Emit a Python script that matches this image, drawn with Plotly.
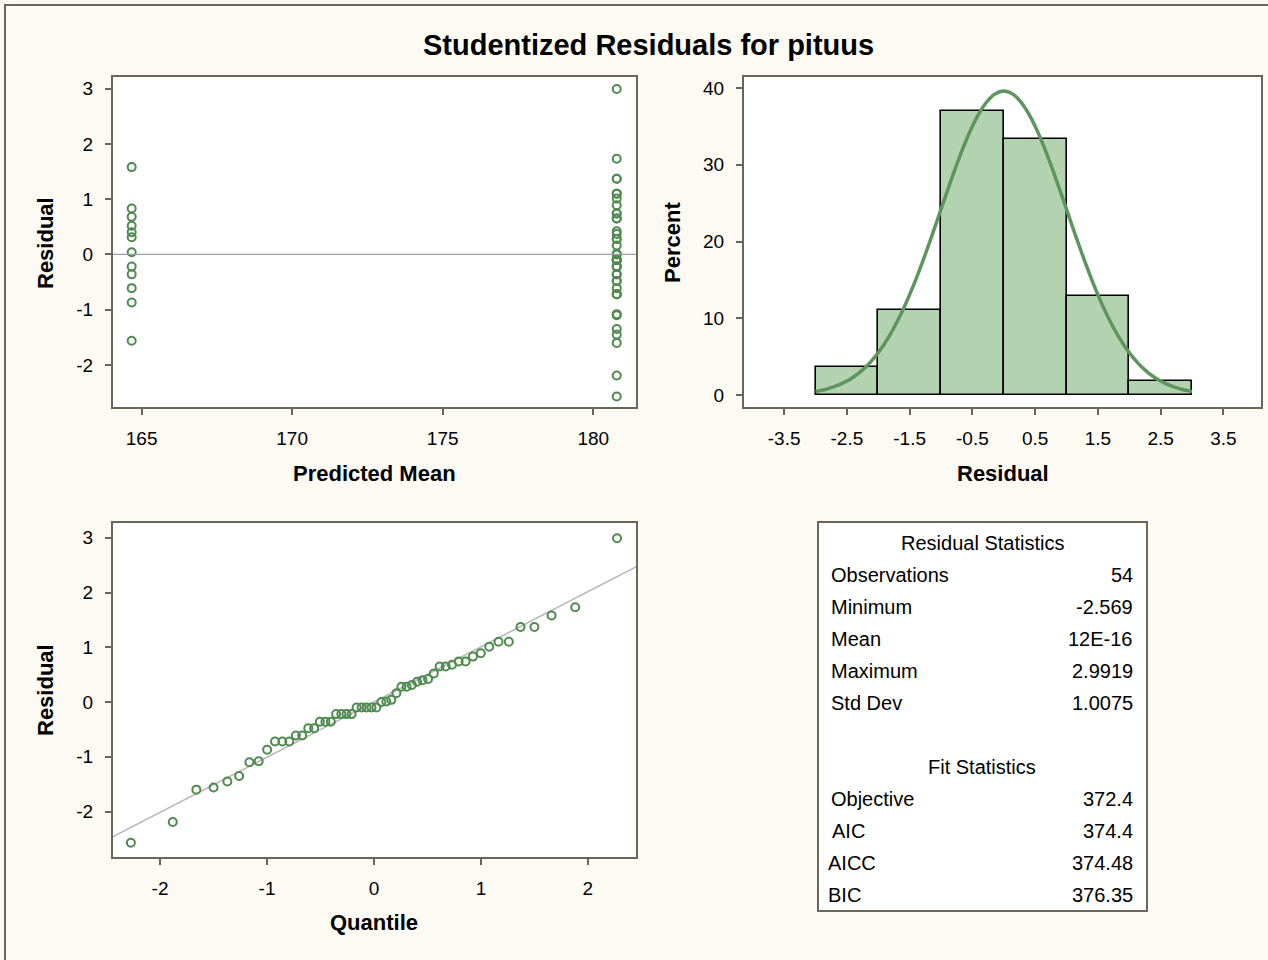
import plotly.graph_objects as go
from statistics import NormalDist

W, H = 1268, 960

# ---------------- data ----------------
title_text = "Studentized Residuals for pituus"

pred_low = 164.67
pred_high = 180.78
resid_low = [1.58, 0.83, 0.68, 0.52, 0.40, 0.31, 0.04, -0.22, -0.36, -0.61, -0.87, -1.56]
resid_high = [-2.569, -2.19, -1.60, -1.45, -1.35, -1.10, -1.08, -0.72, -0.72, -0.72,
              -0.61, -0.48, -0.48, -0.36, -0.36, -0.22, -0.22, -0.22, -0.10, -0.10,
              -0.10, -0.10, -0.10, 0.00, 0.01, 0.16, 0.28, 0.28, 0.37, 0.42,
              0.65, 0.65, 0.74, 0.74, 0.89, 1.01, 1.10, 1.10, 1.37, 1.37,
              1.73, 2.9919]

scatter_xticks = [165, 170, 175, 180]
resid_yticks = [-2, -1, 0, 1, 2, 3]
resid_yticktext = ["-2", "-1", "0", "1", "2", "3"]
hist_xticks = [-3.5, -2.5, -1.5, -0.5, 0.5, 1.5, 2.5, 3.5]
hist_xticktext = ["-3.5", "-2.5", "-1.5", "-0.5", "0.5", "1.5", "2.5", "3.5"]
hist_yticks = [0, 10, 20, 30, 40]
qq_xticks = [-2, -1, 0, 1, 2]
qq_xticktext = ["-2", "-1", "0", "1", "2"]

stat_labels = ["Observations", "Minimum", "Mean", "Maximum", "Std Dev"]
stat_values = ["54", "-2.569", "12E-16", "2.9919", "1.0075"]
fit_labels = ["Objective", "AIC", "AICC", "BIC"]
fit_values = ["372.4", "374.4", "374.48", "376.35"]

resid_mean = 0.0      # 12E-16
resid_sd = 1.0075

# ---------------- styles ----------------
BG = "#FDFAF3"
FRAME = "#6B665A"
GREEN = "#4F8A4F"
HIST_FILL = "#B3D3B0"
CURVE = "#5E955E"
FONT = "Liberation Sans, Arial, sans-serif"


def fx(px):
    return px / W


def fy(py):
    return 1 - py / H


all_resid = resid_low + resid_high
n = len(all_resid)
sorted_resid = sorted(all_resid)
nd = NormalDist()
qq_x = [nd.inv_cdf((i + 1 - 0.375) / (n + 0.25)) for i in range(n)]

curve_x = [-3 + i * 0.05 for i in range(121)]
fit_nd = NormalDist(resid_mean, resid_sd)
curve_y = [100 * 1.0 * fit_nd.pdf(v) for v in curve_x]

fig = go.Figure()

marker = dict(symbol="circle-open", size=8, color=GREEN, line=dict(color=GREEN, width=2))

# Panel 1: residual vs predicted mean
fig.add_trace(go.Scatter(x=[pred_low] * len(resid_low) + [pred_high] * len(resid_high),
                         y=resid_low + resid_high, mode="markers", marker=marker,
                         xaxis="x", yaxis="y", showlegend=False))

# Panel 2: histogram + normal curve
fig.add_trace(go.Histogram(x=all_resid, histnorm="percent",
                           xbins=dict(start=-3, end=3, size=1),
                           marker=dict(color=HIST_FILL, line=dict(color="black", width=1.6)),
                           xaxis="x2", yaxis="y2", showlegend=False))
fig.add_trace(go.Scatter(x=curve_x, y=curve_y, mode="lines",
                         line=dict(color=CURVE, width=3.5, shape="spline"),
                         xaxis="x2", yaxis="y2", showlegend=False))

# Panel 3: QQ plot
fig.add_trace(go.Scatter(x=[-3, 3], y=[resid_mean - 3 * resid_sd, resid_mean + 3 * resid_sd],
                         mode="lines", line=dict(color="#B8B8B8", width=1.5),
                         xaxis="x3", yaxis="y3", showlegend=False))
fig.add_trace(go.Scatter(x=qq_x, y=sorted_resid, mode="markers", marker=marker,
                         xaxis="x3", yaxis="y3", showlegend=False))

axis_common = dict(showline=True, mirror=True, linecolor=FRAME, linewidth=2,
                   ticks="outside", ticklen=6, tickwidth=1.5, tickcolor=FRAME,
                   showgrid=False, zeroline=False, automargin=False,
                   tickfont=dict(family=FONT, size=19, color="black"))

fig.update_layout(
    width=W, height=H,
    margin=dict(l=0, r=0, t=0, b=0),
    paper_bgcolor=BG, plot_bgcolor="white",
    bargap=0,
    xaxis=dict(domain=[fx(113), fx(636)], range=[164.05, 181.42], tickvals=scatter_xticks,
               anchor="y", ticklabelstandoff=7, **axis_common),
    yaxis=dict(domain=[fy(407), fy(77)], range=[-2.76, 3.21], tickvals=resid_yticks,
               ticktext=resid_yticktext, anchor="x", ticklabelstandoff=8, **axis_common),
    xaxis2=dict(domain=[fx(744), fx(1261)], range=[-4.14, 4.10], tickvals=hist_xticks,
                ticktext=hist_xticktext, anchor="y2", ticklabelstandoff=7, **axis_common),
    yaxis2=dict(domain=[fy(407), fy(77)], range=[-1.56, 41.43], tickvals=hist_yticks,
                anchor="x2", ticklabelstandoff=8, **axis_common),
    xaxis3=dict(domain=[fx(113), fx(636)], range=[-2.44, 2.45], tickvals=qq_xticks,
                ticktext=qq_xticktext, anchor="y3", ticklabelstandoff=7, **axis_common),
    yaxis3=dict(domain=[fy(857), fy(523)], range=[-2.83, 3.27], tickvals=resid_yticks,
                ticktext=resid_yticktext, anchor="x3", ticklabelstandoff=8, **axis_common),
)

# zero reference line in residual plot
fig.add_shape(type="line", xref="x domain", yref="y", x0=0, x1=1, y0=0, y1=0,
              line=dict(color="#A0A0A0", width=1.2), layer="above")

# figure border
fig.add_shape(type="rect", xref="paper", yref="paper", x0=fx(5), y0=fy(975), x1=fx(1280), y1=fy(5),
              line=dict(color=FRAME, width=2), fillcolor="rgba(0,0,0,0)", layer="below")

# stats table box
fig.add_shape(type="rect", xref="paper", yref="paper", x0=fx(818), y0=fy(911), x1=fx(1147), y1=fy(522),
              line=dict(color=FRAME, width=2), fillcolor="white", layer="below")


def ann(text, x, y, size=20, bold=False, xanchor="center", angle=0):
    fig.add_annotation(text=f"<b>{text}</b>" if bold else text, xref="paper", yref="paper",
                       x=fx(x), y=fy(y), xanchor=xanchor, yanchor="middle", showarrow=False,
                       textangle=angle, font=dict(family=FONT, size=size, color="black"))


ann(title_text, 648, 45, size=29, bold=True)
ann("Predicted Mean", 374, 473, size=22, bold=True)
ann("Residual", 45, 243, size=22, bold=True, angle=-90)
ann("Percent", 672, 243, size=22, bold=True, angle=-90)
ann("Residual", 1003, 473, size=22, bold=True)
ann("Quantile", 374, 922, size=22, bold=True)
ann("Residual", 45, 690, size=22, bold=True, angle=-90)

# table text
ann("Residual Statistics", 982, 543, size=20)
label_x = [829, 829, 829, 829, 829]
for i, (lab, val) in enumerate(zip(stat_labels, stat_values)):
    y = 575 + 32 * i
    ann(lab, label_x[i], y, size=20, xanchor="left")
    ann(val, 1135, y, size=20, xanchor="right")
ann("Fit Statistics", 982, 767, size=20)
fit_label_x = [829, 830, 826, 826]
for i, (lab, val) in enumerate(zip(fit_labels, fit_values)):
    y = 799 + 32 * i
    ann(lab, fit_label_x[i], y, size=20, xanchor="left")
    ann(val, 1135, y, size=20, xanchor="right")

fig.write_html("out.html", config={"displayModeBar": False},
               post_script="document.body.style.margin='0';document.body.style.overflow='hidden';")
